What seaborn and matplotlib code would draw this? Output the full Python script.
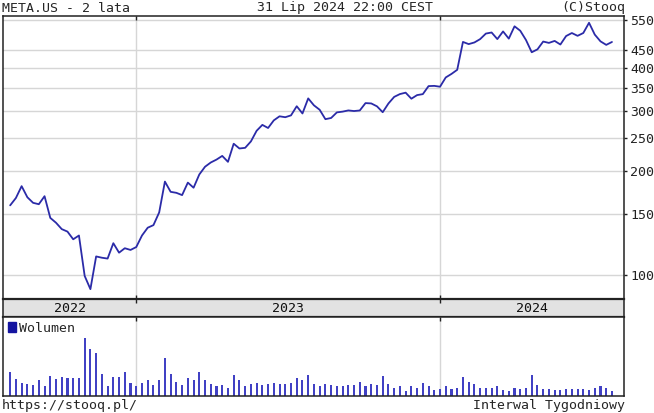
import numpy as np
import pandas as pd
import matplotlib
matplotlib.use("Agg")
import matplotlib.pyplot as plt
import seaborn as sns
from matplotlib.patches import Patch

# ================================
# DANE - META.US, interwał tygodniowy (29.07.2022 - 31.07.2024)
# ================================
daty = list(pd.date_range("2022-07-29", "2024-07-26", freq="W-FRI").strftime("%Y-%m-%d")) + ["2024-07-31"]

kurs = [159.1, 167.1, 180.9, 167.96, 161.8, 160.3, 169.15, 146.29, 141.6, 135.7,
        133.45, 126.76, 130.01, 99.2, 90.79, 113.02, 112.05, 111.41, 123.49, 115.9,
        119.4, 118.04, 120.34, 130.02, 136.98, 139.37, 151.74, 186.53, 174.15, 173.0,
        170.39, 185.25, 179.0, 195.61, 206.01, 211.94, 216.1, 221.49, 212.89, 240.32,
        232.78, 233.81, 244.0, 262.04, 272.61, 267.0, 281.0, 288.73, 286.98, 290.53,
        308.87, 294.26, 325.48, 310.73, 301.64, 283.25, 285.5, 296.38, 297.89, 300.31,
        299.08, 300.21, 315.43, 314.69, 308.65, 296.73, 314.6, 328.77, 335.04, 338.23,
        324.82, 332.75, 334.92, 353.39, 353.96, 351.95, 374.49, 383.45, 394.14, 474.99,
        468.11, 473.32, 484.03, 502.3, 505.95, 484.1, 509.58, 485.58, 527.34, 511.9,
        481.07, 443.29, 451.96, 476.2, 471.9, 478.22, 466.83, 494.09, 504.16, 494.78,
        504.22, 539.91, 498.87, 476.79, 465.7, 474.83]

# wolumen tygodniowy w mln szt.
wolumen = [170, 122, 96, 86, 77, 113, 70, 146, 120, 137,
           130, 130, 130, 418, 341, 310, 161, 72, 137, 137,
           173, 96, 72, 96, 113, 77, 113, 276, 161, 101,
           77, 127, 113, 170, 113, 86, 72, 77, 60, 154,
           113, 70, 89, 96, 77, 86, 94, 86, 86, 96,
           127, 113, 154, 86, 72, 86, 77, 70, 70, 77,
           77, 103, 70, 86, 77, 144, 86, 60, 70, 36,
           70, 60, 96, 70, 43, 53, 70, 48, 60, 137,
           103, 86, 60, 60, 60, 70, 43, 36, 60, 53,
           60, 154, 77, 53, 53, 43, 43, 53, 53, 53,
           53, 43, 60, 70, 60, 36]

lata = ["2022", "2023", "2024"]
granice_lat = [22, 75]          # pierwsze tygodnie nowego roku na osi
ticki_y = [100, 150, 200, 250, 300, 350, 400, 450, 550]

df = pd.DataFrame({"data": daty, "tydzien": np.arange(len(kurs)),
                   "kurs": kurs, "wolumen": wolumen})

# ================================
# WYGLĄD
# ================================
sns.set_style("white")
MONO = ["DejaVu Sans Mono", "DejaVu Sans"]
plt.rcParams["font.family"] = MONO
FS = 9.5
LINIA = "#2b2ba8"
SLUPEK = "#4141c4"
SIATKA = "#d6d6d6"
RAMKA = "#222222"

W, H = 654, 413
fig = plt.figure(figsize=(W / 100, H / 100), dpi=100)

def osie(top, bottom, left=3, right=624):
    return fig.add_axes([left / W, 1 - bottom / H, (right - left) / W, (bottom - top) / H])

ax = osie(16, 299)
ax_rok = osie(299, 317)
ax_vol = osie(317, 396)

xmin, xmax = -1.25, 107.1

# ---- wykres kursu
sns.lineplot(data=df, x="tydzien", y="kurs", ax=ax, color=LINIA, linewidth=1.3)
ax.set_yscale("log")
ax.set_ylim(85, 565)
ax.set_xlim(xmin, xmax)
ax.set_yticks(ticki_y)
ax.set_yticklabels([str(t) for t in ticki_y])
ax.minorticks_off()
ax.yaxis.tick_right()
ax.tick_params(axis="y", which="major", direction="out", length=2.5, width=1,
               pad=2, labelsize=FS, colors=RAMKA, right=True, left=False)
ax.set_xticks(granice_lat)
ax.set_xticklabels([])
ax.tick_params(axis="x", direction="in", length=3, width=1, top=True, bottom=True, colors=RAMKA)
for t in ticki_y:
    ax.axhline(t, color=SIATKA, lw=1, zorder=0)
for g in granice_lat:
    ax.axvline(g, color=SIATKA, lw=1, zorder=0)
ax.set_xlabel("")
ax.set_ylabel("")

# ---- pasek z latami
ax_rok.set_facecolor("#e2e2e2")
ax_rok.set_xlim(xmin, xmax)
ax_rok.set_ylim(0, 1)
ax_rok.set_yticks([])
ax_rok.set_xticks(granice_lat)
ax_rok.set_xticklabels([])
ax_rok.tick_params(axis="x", direction="in", length=3, width=1, top=True, bottom=False, colors=RAMKA)
granice = [xmin] + granice_lat + [xmax]
for rok, a, b in zip(lata, granice[:-1], granice[1:]):
    ax_rok.text((a + b) / 2, 0.5, rok, ha="center", va="center", fontsize=FS, color="#111111")

# ---- wolumen
ax_vol.bar(df["tydzien"], df["wolumen"], width=0.36, color=SLUPEK, linewidth=0)
ax_vol.set_xlim(xmin, xmax)
ax_vol.set_ylim(0, 570)
ax_vol.set_yticks([])
ax_vol.set_xticks(granice_lat)
ax_vol.set_xticklabels([])
ax_vol.tick_params(axis="x", direction="in", length=3, width=1, top=True, bottom=False, colors=RAMKA)
for g in granice_lat:
    ax_vol.axvline(g, color=SIATKA, lw=1, zorder=0)
ax_vol.legend(handles=[Patch(color="#1414a0")], labels=["Wolumen"], loc="upper left",
              frameon=False, handlelength=0.6, handleheight=0.8, handletextpad=0.3,
              borderaxespad=0.15, borderpad=0.2, prop={"family": MONO, "size": FS})

for a in (ax, ax_rok, ax_vol):
    for s in a.spines.values():
        s.set_color(RAMKA)
        s.set_linewidth(1.1)
ax_rok.spines["top"].set_linewidth(1.6)
ax_rok.spines["bottom"].set_linewidth(1.6)

# ---- napisy
fig.text(2 / W, 1 - 8 / H, "META.US - 2 lata", ha="left", va="center", fontsize=FS)
fig.text(345 / W, 1 - 8 / H, "31 Lip 2024 22:00 CEST", ha="center", va="center", fontsize=FS)
fig.text(625 / W, 1 - 8 / H, "(C)Stooq", ha="right", va="center", fontsize=FS)
fig.text(2 / W, 1 - 405 / H, "https://stooq.pl/", ha="left", va="center", fontsize=FS)
fig.text(625 / W, 1 - 405 / H, "Interwal Tygodniowy", ha="right", va="center", fontsize=FS)

fig.savefig("out.png", dpi=100, facecolor="white")
